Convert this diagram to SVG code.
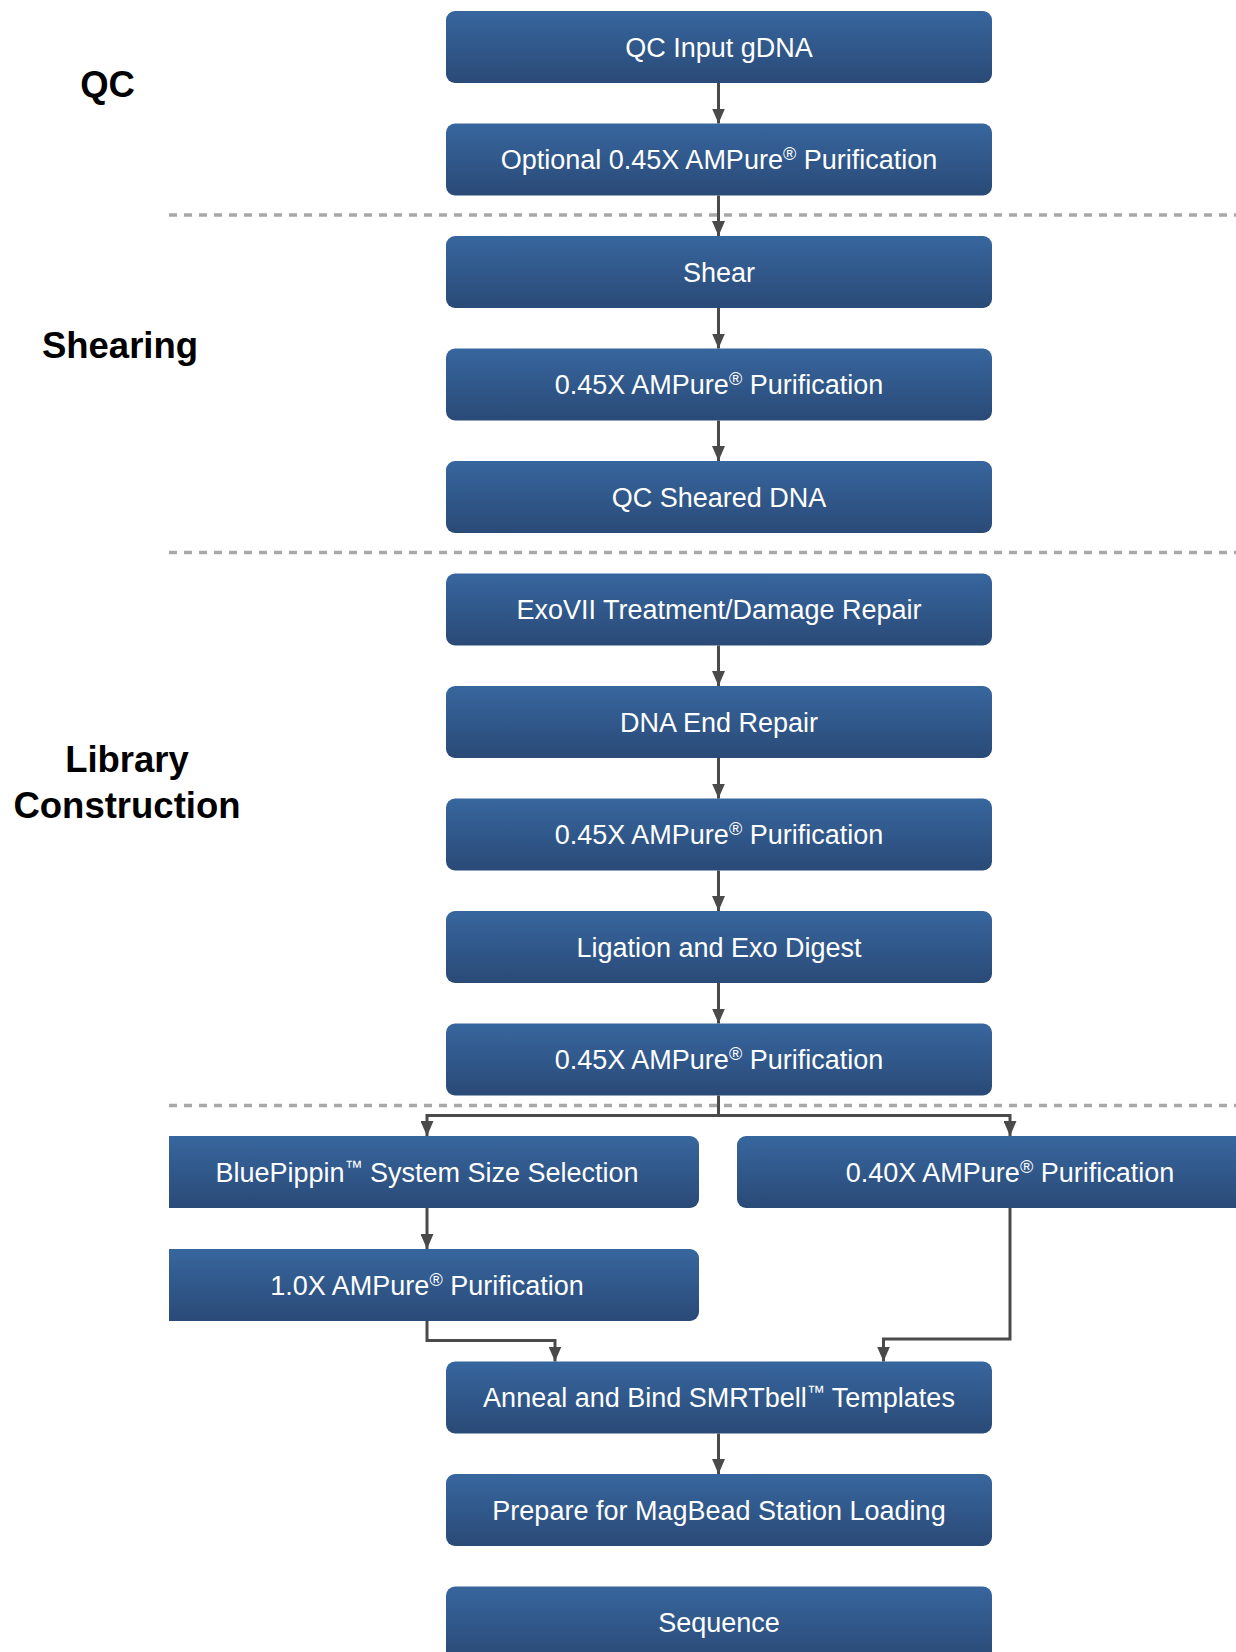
<svg xmlns="http://www.w3.org/2000/svg" width="1236" height="1652" viewBox="0 0 1236 1652">
<defs>
<linearGradient id="boxg" x1="0" y1="0" x2="0" y2="1">
<stop offset="0" stop-color="#37669e"/>
<stop offset="1" stop-color="#2a4a77"/>
</linearGradient>
<linearGradient id="boxgs" gradientUnits="userSpaceOnUse" x1="0" y1="1586.5" x2="0" y2="1658.5">
<stop offset="0" stop-color="#37669e"/>
<stop offset="1" stop-color="#2a4a77"/>
</linearGradient>
<marker id="ah" markerUnits="userSpaceOnUse" markerWidth="15" markerHeight="13" viewBox="0 0 15 13" refX="15" refY="6.5" orient="auto">
<path d="M0,0 L15,6.5 L0,13 Z" fill="#4a4a4a"/>
</marker>
<style>
.box{fill:url(#boxg);}
.t{font-family:"Liberation Sans",Arial,sans-serif;font-size:27px;fill:#ffffff;text-anchor:middle;}
.sup{font-size:18px;}
.lbl{font-family:"Liberation Sans",Arial,sans-serif;font-size:36.5px;font-weight:bold;fill:#000000;text-anchor:middle;}
.dash{stroke:#a8a8a8;stroke-width:3.5;stroke-dasharray:8 7;fill:none;}
.con{stroke:#4a4a4a;stroke-width:3;fill:none;marker-end:url(#ah);}
</style>
</defs>
<rect width="1236" height="1652" fill="#ffffff"/>

<g id="section-labels">
<text class="lbl" x="107.5" y="97">QC</text>
<text class="lbl" x="120" y="358">Shearing</text>
<text class="lbl" x="127" y="772">Library</text>
<text class="lbl" x="127" y="818">Construction</text>
</g>

<g id="dividers">
<line class="dash" x1="169" y1="215" x2="1236" y2="215"/>
<line class="dash" x1="169" y1="552.5" x2="1236" y2="552.5"/>
<line class="dash" x1="169" y1="1105.5" x2="1236" y2="1105.5"/>
</g>

<g id="n1"><rect class="box" x="446" y="11" width="546" height="72" rx="9"/><text class="t" x="719" y="56.5">QC Input gDNA</text></g>
<g id="n2"><rect class="box" x="446" y="123.5" width="546" height="72" rx="9"/><text class="t" x="719" y="169">Optional 0.45X AMPure<tspan class="sup" dy="-9">®</tspan><tspan dy="9"> Purification</tspan></text></g>
<g id="n3"><rect class="box" x="446" y="236" width="546" height="72" rx="9"/><text class="t" x="719" y="281.5">Shear</text></g>
<g id="n4"><rect class="box" x="446" y="348.5" width="546" height="72" rx="9"/><text class="t" x="719" y="394">0.45X AMPure<tspan class="sup" dy="-9">®</tspan><tspan dy="9"> Purification</tspan></text></g>
<g id="n5"><rect class="box" x="446" y="461" width="546" height="72" rx="9"/><text class="t" x="719" y="506.5">QC Sheared DNA</text></g>
<g id="n6"><rect class="box" x="446" y="573.5" width="546" height="72" rx="9"/><text class="t" x="719" y="619">ExoVII Treatment/Damage Repair</text></g>
<g id="n7"><rect class="box" x="446" y="686" width="546" height="72" rx="9"/><text class="t" x="719" y="731.5">DNA End Repair</text></g>
<g id="n8"><rect class="box" x="446" y="798.5" width="546" height="72" rx="9"/><text class="t" x="719" y="844">0.45X AMPure<tspan class="sup" dy="-9">®</tspan><tspan dy="9"> Purification</tspan></text></g>
<g id="n9"><rect class="box" x="446" y="911" width="546" height="72" rx="9"/><text class="t" x="719" y="956.5">Ligation and Exo Digest</text></g>
<g id="n10"><rect class="box" x="446" y="1023.5" width="546" height="72" rx="9"/><text class="t" x="719" y="1069">0.45X AMPure<tspan class="sup" dy="-9">®</tspan><tspan dy="9"> Purification</tspan></text></g>
<g id="n11"><path class="box" d="M169,1136 H690 A9,9 0 0 1 699,1145 V1199 A9,9 0 0 1 690,1208 H169 Z"/><text class="t" x="427" y="1181.5">BluePippin<tspan class="sup" dy="-9">™</tspan><tspan dy="9"> System Size Selection</tspan></text></g>
<g id="n12"><path class="box" d="M746,1136 H1236 V1208 H746 A9,9 0 0 1 737,1199 V1145 A9,9 0 0 1 746,1136 Z"/><text class="t" x="1010" y="1181.5">0.40X AMPure<tspan class="sup" dy="-9">®</tspan><tspan dy="9"> Purification</tspan></text></g>
<g id="n13"><path class="box" d="M169,1249 H690 A9,9 0 0 1 699,1258 V1312 A9,9 0 0 1 690,1321 H169 Z"/><text class="t" x="427" y="1294.5">1.0X AMPure<tspan class="sup" dy="-9">®</tspan><tspan dy="9"> Purification</tspan></text></g>
<g id="n14"><rect class="box" x="446" y="1361.5" width="546" height="72" rx="9"/><text class="t" x="719" y="1407">Anneal and Bind SMRTbell<tspan class="sup" dy="-9">™</tspan><tspan dy="9"> Templates</tspan></text></g>
<g id="n15"><rect class="box" x="446" y="1474" width="546" height="72" rx="9"/><text class="t" x="719" y="1519.5">Prepare for MagBead Station Loading</text></g>
<g id="n16"><rect x="446" y="1586.5" width="546" height="90" rx="9" fill="url(#boxgs)"/><text class="t" x="719" y="1632">Sequence</text></g>

<g id="connectors">
<path class="con" d="M718.5,83 V123.5"/>
<path class="con" d="M718.5,195.5 V236"/>
<path class="con" d="M718.5,308 V348.5"/>
<path class="con" d="M718.5,420.5 V461"/>
<path class="con" d="M718.5,645.5 V686"/>
<path class="con" d="M718.5,758 V798.5"/>
<path class="con" d="M718.5,870.5 V911"/>
<path class="con" d="M718.5,983 V1023.5"/>
<path class="con" d="M718.5,1095.5 V1115.5 H427 V1136"/>
<path class="con" d="M718.5,1115.5 H1010 V1136"/>
<path class="con" d="M427,1208 V1249"/>
<path class="con" d="M427,1321 V1340.5 H555 V1361.5"/>
<path class="con" d="M1010,1208 V1339 H883.5 V1361.5"/>
<path class="con" d="M718.5,1433.5 V1474"/>
</g>
</svg>
